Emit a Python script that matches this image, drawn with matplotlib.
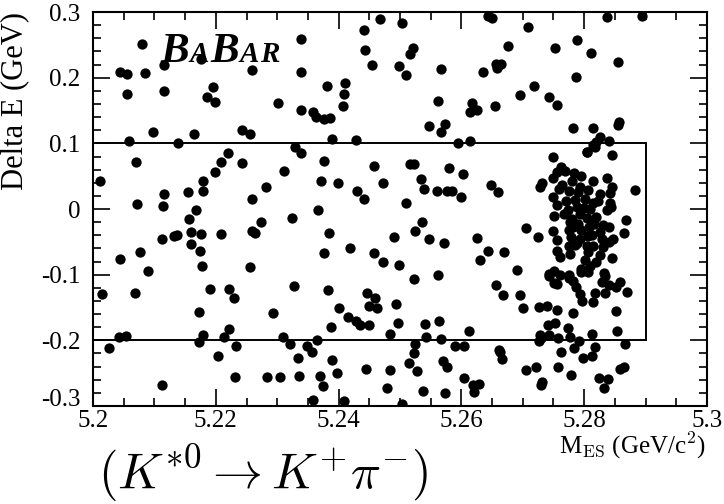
import matplotlib
matplotlib.use("Agg")
import matplotlib.pyplot as plt
from matplotlib.patches import Rectangle
from matplotlib.ticker import MultipleLocator

# candidate events: M_ES (GeV/c^2), Delta E (GeV)
mes = [
    5.2079, 5.2116, 5.2176, 5.2044, 5.2055, 5.2084, 5.2259, 5.2339, 5.2339, 5.2055,
    5.2116, 5.2196, 5.2186, 5.2198, 5.2302, 5.2339, 5.2098, 5.2059, 5.2138, 5.2164,
    5.2243, 5.2255, 5.2467, 5.2504, 5.2441, 5.2443, 5.2521, 5.2517, 5.2676, 5.2644,
    5.2650, 5.2454, 5.2499, 5.2509, 5.2566, 5.2635, 5.2657, 5.2665, 5.2658, 5.2381,
    5.2410, 5.2409, 5.2407, 5.2358, 5.2363, 5.2377, 5.2386, 5.2562, 5.2617, 5.2614,
    5.2625, 5.2655, 5.2547, 5.2574, 5.2566, 5.2390, 5.2428, 5.2594, 5.2614, 5.2709,
    5.2837, 5.2894, 5.2753, 5.2789, 5.2811, 5.2855, 5.2787, 5.2718, 5.2695, 5.2743,
    5.2756, 5.2781, 5.2815, 5.2855, 5.2857, 5.2826, 5.2840, 5.2819, 5.2814, 5.2805,
    5.2846, 5.2750, 5.2329, 5.2339, 5.2070, 5.2220, 5.2209, 5.2242, 5.2198, 5.2311,
    5.2011, 5.2179, 5.2116, 5.2154, 5.2179, 5.2282, 5.2259, 5.2071, 5.2114, 5.2167,
    5.2157, 5.2274, 5.2324, 5.2112, 5.2132, 5.2136, 5.2160, 5.2176, 5.2209, 5.2259,
    5.2264, 5.2159, 5.2175, 5.2077, 5.2044, 5.2090, 5.2178, 5.2256, 5.2376, 5.2458,
    5.2516, 5.2523, 5.2579, 5.2602, 5.2371, 5.2399, 5.2472, 5.2430, 5.2441, 5.2534,
    5.2539, 5.2560, 5.2577, 5.2584, 5.2600, 5.2648, 5.2660, 5.2509, 5.2366, 5.2536,
    5.2524, 5.2385, 5.2491, 5.2548, 5.2572, 5.2625, 5.2376, 5.2419, 5.2458, 5.2473,
    5.2499, 5.2643, 5.2669, 5.2631, 5.2562, 5.2804, 5.2818, 5.2882, 5.2705, 5.2724,
    5.2690, 5.2868, 5.2865, 5.2845,
    # signal region cluster
    5.2762, 5.2755, 5.2769, 5.2749, 5.2731, 5.2728, 5.2759, 5.2783, 5.2795, 5.2780,
    5.2815, 5.2837, 5.2845, 5.2775, 5.2793, 5.2807, 5.2826, 5.2842, 5.2749, 5.2755,
    5.2751, 5.2771, 5.2785, 5.2801, 5.2815, 5.2842, 5.2837, 5.2843, 5.2774, 5.2780,
    5.2793, 5.2820, 5.2809, 5.2788, 5.2804, 5.2831, 5.2840, 5.2775, 5.2782, 5.2795,
    5.2808, 5.2749, 5.2755, 5.2778, 5.2793, 5.2813, 5.2829, 5.2847, 5.2841, 5.2775,
    5.2788, 5.2805, 5.2815, 5.2831, 5.2755, 5.2761, 5.2777, 5.2807, 5.2825, 5.2810,
    5.2794, 5.2751, 5.2742, 5.2761, 5.2775, 5.2833, 5.2764, 5.2790, 5.2800, 5.2777,
    5.2816, 5.2790, 5.2822, 5.2806, 5.2767, 5.2826, 5.2785, 5.2801, 5.2819, 5.2742,
    5.2775, 5.2781, 5.2794, 5.2807, 5.2834, 5.2829, 5.2840, 5.2851, 5.2858, 5.2787,
    5.2751, 5.2756,
    # below the signal box
    5.2869, 5.2695, 5.2701, 5.2727, 5.2739, 5.2755, 5.2782, 5.2793, 5.2796, 5.2818,
    5.2815, 5.2834, 5.2852, 5.2741, 5.2752, 5.2774, 5.2854, 5.2812, 5.2728, 5.2730,
    5.2742, 5.2726, 5.2758, 5.2777, 5.2792, 5.2817, 5.2783, 5.2762, 5.2866, 5.2798,
    5.2812, 5.2705, 5.2721, 5.2758, 5.2778, 5.2858, 5.2865, 5.2824, 5.2838, 5.2833,
    5.2731, 5.2730,
    5.2015, 5.2069, 5.2191, 5.2221, 5.2229, 5.2327, 5.2173, 5.2293, 5.2043, 5.2054,
    5.2026, 5.2172, 5.2179, 5.2213, 5.2222, 5.2233, 5.2204, 5.2310, 5.2321, 5.2334,
    5.2112, 5.2232, 5.2284, 5.2305, 5.2335,
    5.2522, 5.2383, 5.2447, 5.2459, 5.2449, 5.2463, 5.2493, 5.2400, 5.2416, 5.2429,
    5.2435, 5.2450, 5.2387, 5.2497, 5.2541, 5.2563, 5.2657, 5.2667, 5.2612, 5.2484,
    5.2542, 5.2567, 5.2365, 5.2349, 5.2357, 5.2525, 5.2523, 5.2590, 5.2605, 5.2661,
    5.2663, 5.2666, 5.2389, 5.2570, 5.2576, 5.2515, 5.2445, 5.2483, 5.2527, 5.2397,
    5.2370, 5.2375, 5.2605, 5.2619, 5.2629, 5.2621, 5.2478, 5.2537, 5.2574, 5.2359,
    5.2408, 5.2503,
]
de = [
    0.251, 0.219, 0.228, 0.209, 0.206, 0.207, 0.212, 0.259, 0.209, 0.175,
    0.180, 0.186, 0.171, 0.163, 0.162, 0.151, 0.117, 0.104, 0.100, 0.114,
    0.120, 0.115, 0.289, 0.283, 0.273, 0.243, 0.246, 0.236, 0.248, 0.294,
    0.291, 0.220, 0.218, 0.204, 0.214, 0.208, 0.221, 0.221, 0.215, 0.188,
    0.192, 0.175, 0.157, 0.148, 0.140, 0.137, 0.139, 0.164, 0.162, 0.148,
    0.151, 0.157, 0.127, 0.129, 0.118, 0.107, 0.105, 0.100, 0.104, 0.278,
    0.292, 0.294, 0.245, 0.257, 0.238, 0.224, 0.201, 0.188, 0.174, 0.171,
    0.159, 0.124, 0.124, 0.128, 0.132, 0.110, 0.103, 0.102, 0.097, 0.087,
    0.083, 0.080, 0.095, 0.085, 0.071, 0.085, 0.072, 0.070, 0.056, 0.058,
    0.043, 0.043, 0.023, 0.026, 0.027, 0.033, 0.016, 0.008, 0.005, -0.001,
    -0.015, -0.019, -0.014, -0.045, -0.041, -0.039, -0.035, -0.038, -0.038, -0.034,
    -0.036, -0.053, -0.064, -0.066, -0.076, -0.094, -0.087, -0.088, 0.073, 0.065,
    0.068, 0.068, 0.062, 0.053, 0.042, 0.039, 0.039, 0.027, 0.015, 0.046,
    0.031, 0.027, 0.028, 0.027, 0.018, 0.037, 0.026, 0.009, -0.002, -0.019,
    -0.033, -0.037, -0.043, -0.045, -0.051, -0.044, -0.067, -0.060, -0.067, -0.081,
    -0.085, -0.064, -0.065, -0.078, -0.101, 0.087, 0.094, 0.029, -0.029, -0.042,
    -0.093, -0.017, -0.037, -0.074,
    # signal region cluster
    0.064, 0.056, 0.058, 0.048, 0.040, 0.033, 0.030, 0.055, 0.050, 0.042,
    0.042, 0.048, 0.033, 0.028, 0.034, 0.029, 0.023, 0.024, 0.018, 0.006,
    -0.010, 0.013, 0.014, 0.016, 0.009, 0.009, -0.002, 0.003, -0.002, -0.015,
    -0.008, -0.012, 0.000, 0.003, -0.013, -0.025, -0.028, -0.032, -0.028, -0.032,
    -0.028, -0.034, -0.047, -0.043, -0.045, -0.040, -0.045, -0.045, -0.050, -0.056,
    -0.052, -0.056, -0.057, -0.058, -0.064, -0.073, -0.069, -0.066, -0.070, -0.086,
    -0.091, -0.094, -0.099, -0.100, -0.100, -0.098, 0.036, 0.026, 0.002, -0.020,
    -0.023, -0.023, 0.013, -0.041, -0.008, -0.035, -0.054, -0.078, -0.081, -0.102,
    -0.105, -0.109, -0.096, -0.096, -0.102, -0.111, -0.116, -0.119, -0.111, -0.119,
    -0.113, -0.114,
    # below the signal box
    -0.126, -0.131, -0.151, -0.149, -0.147, -0.154, -0.158, -0.129, -0.140, -0.128,
    -0.142, -0.128, -0.155, -0.176, -0.174, -0.181, -0.185, -0.191, -0.192, -0.196,
    -0.192, -0.201, -0.196, -0.195, -0.201, -0.210, -0.212, -0.218, -0.206, -0.227,
    -0.224, -0.245, -0.240, -0.241, -0.252, -0.243, -0.241, -0.258, -0.259, -0.272,
    -0.264, -0.268,
    -0.129, -0.128, -0.121, -0.121, -0.136, -0.117, -0.157, -0.158, -0.195, -0.193,
    -0.211, -0.203, -0.192, -0.195, -0.182, -0.208, -0.224, -0.195, -0.205, -0.227,
    -0.268, -0.256, -0.256, -0.256, -0.254,
    -0.106, -0.123, -0.128, -0.135, -0.148, -0.150, -0.145, -0.150, -0.165, -0.170,
    -0.177, -0.177, -0.180, -0.173, -0.175, -0.171, -0.116, -0.131, -0.186, -0.191,
    -0.195, -0.198, -0.200, -0.208, -0.218, -0.205, -0.220, -0.209, -0.208, -0.214,
    -0.218, -0.229, -0.230, -0.232, -0.241, -0.234, -0.243, -0.245, -0.247, -0.250,
    -0.255, -0.270, -0.257, -0.268, -0.267, -0.279, -0.273, -0.277, -0.280, -0.291,
    -0.292, -0.297,
]

# signal box
box_x = (5.2, 5.29)
box_y = (-0.2, 0.1)

plt.rcParams['font.family'] = ['Liberation Serif', 'DejaVu Serif']
plt.rcParams['mathtext.fontset'] = 'cm'

fig = plt.figure(figsize=(7.24, 5.04), dpi=100)
ax = fig.add_axes([0.1285, 0.1944, 0.848, 0.7816])

ax.scatter(mes, de, s=55, c='black', linewidths=0, zorder=3)
ax.add_patch(Rectangle((box_x[0], box_y[0]), box_x[1] - box_x[0], box_y[1] - box_y[0],
                       fill=False, edgecolor='black', linewidth=1.4, zorder=2))

ax.set_xlim(5.2, 5.3)
ax.set_ylim(-0.3, 0.3)
ax.xaxis.set_minor_locator(MultipleLocator(0.005))
ax.yaxis.set_minor_locator(MultipleLocator(0.02))
ax.set_xticks([5.2, 5.22, 5.24, 5.26, 5.28, 5.3])
ax.set_xticklabels(['5.2', '5.22', '5.24', '5.26', '5.28', '5.3'])
ax.set_yticks([-0.3, -0.2, -0.1, 0, 0.1, 0.2, 0.3])
ax.set_yticklabels(['-0.3', '-0.2', '-0.1', '0', '0.1', '0.2', '0.3'])
ax.tick_params(which='both', direction='in', top=True, right=True, labelsize=18, width=1.2)
ax.tick_params(which='major', length=12)
ax.tick_params(which='minor', length=6)
ax.tick_params(axis='x', pad=3)
ax.tick_params(axis='y', pad=9)
for sp in ax.spines.values():
    sp.set_linewidth(1.5)
# lift the bottom y label a little off the x labels
ax.get_yticklabels()[0].set_va('baseline')

fig.text(0.021, 0.976, 'Delta E (GeV)', rotation=90, ha='center', va='top', fontsize=22)
fig.text(0.975, 0.100, r'M$_{\mathrm{ES}}$ (GeV/c$^{2}$)', ha='right', va='baseline', fontsize=18)
fig.text(0.364, 0.0, r'$(K^{*0} \rightarrow K^{+}\pi^{-})$', ha='center', va='bottom', fontsize=36)

# BaBar logo, letters laid out one after another
logo = [('B', 31, 0), ('A', 21, 1), ('B', 31, 1), ('A', 21, 1), ('R', 21, 1)]
renderer = fig.canvas.get_renderer()
xpix = 160
for ch, size, gap in logo:
    xpix += gap
    t = fig.text(xpix / 724, 1 - 62 / 504, ch, fontsize=size, fontweight='bold',
                 fontstyle='italic', ha='left', va='baseline')
    xpix += t.get_window_extent(renderer=renderer).width

fig.savefig('out.png', dpi=100)
